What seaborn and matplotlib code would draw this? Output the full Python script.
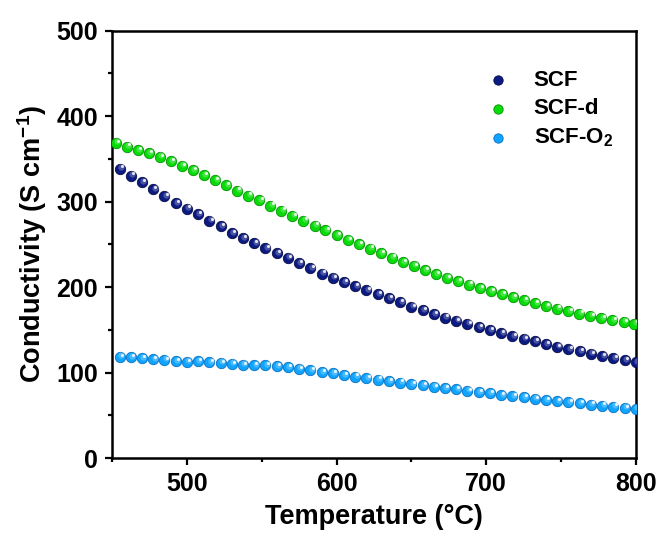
import matplotlib
matplotlib.use("Agg")
import matplotlib.pyplot as plt
import matplotlib.transforms as mtransforms
from matplotlib.ticker import MultipleLocator
import numpy as np
import pandas as pd
import seaborn as sns

# ---------------- data ----------------
temp_scf = [455, 462.5, 470, 477.5, 485, 492.5, 500, 507.5, 515, 522.5, 530, 537.5,
            545, 552.5, 560, 567.5, 575, 582.5, 590, 597.5, 605, 612.5, 620, 627.5,
            635, 642.5, 650, 657.5, 665, 672.5, 680, 687.5, 695, 702.5, 710, 717.5,
            725, 732.5, 740, 747.5, 755, 762.5, 770, 777.5, 785, 792.5, 800]
cond_scf = [338.8, 330.6, 322.5, 314.3, 306.1, 298.6, 292.0, 285.4, 277.6, 271.3,
            263.5, 257.3, 251.1, 245.3, 239.4, 234.3, 227.7, 221.9, 216.0, 210.9,
            205.5, 201.2, 196.5, 191.5, 186.8, 182.1, 177.0, 172.8, 168.7, 164.4,
            160.6, 157.1, 153.2, 149.7, 146.5, 142.9, 139.7, 136.5, 133.2, 130.2,
            127.5, 124.8, 122.0, 119.3, 117.0, 114.6, 112.6]

temp_scf_d = [452.5, 459.9, 467.3, 474.6, 482.0, 489.4, 496.8, 504.1, 511.5, 518.9,
              526.3, 533.6, 541.0, 548.4, 555.8, 563.1, 570.5, 577.9, 585.3, 592.6,
              600.0, 607.4, 614.8, 622.1, 629.5, 636.9, 644.3, 651.6, 659.0, 666.4,
              673.8, 681.1, 688.5, 695.9, 703.3, 710.6, 718.0, 725.4, 732.8, 740.1,
              747.5, 754.9, 762.3, 769.6, 777.0, 784.4, 791.8, 799.1]
cond_scf_d = [368.8, 364.5, 360.5, 356.5, 352.5, 347.5, 342.0, 336.5, 331.0, 325.0,
              319.0, 313.0, 307.0, 301.5, 295.5, 289.5, 283.5, 278.0, 272.0, 266.5,
              261.0, 255.5, 250.5, 245.0, 239.5, 234.5, 229.5, 225.0, 220.0, 215.5,
              211.0, 207.0, 203.0, 199.0, 195.5, 192.0, 188.5, 185.0, 181.5, 178.0,
              175.0, 172.0, 169.0, 166.5, 164.0, 161.5, 159.5, 157.5]

temp_scf_o2 = temp_scf
cond_scf_o2 = [118.5, 117.8, 117.0, 116.1, 115.0, 113.5, 112.8, 113.2, 112.6, 111.5,
               110.3, 109.2, 108.8, 108.4, 107.3, 106.2, 104.5, 102.9, 100.9, 99.1,
               97.1, 95.3, 93.7, 92.0, 90.1, 88.3, 86.5, 85.0, 83.4, 81.9,
               80.4, 78.7, 77.2, 75.7, 74.0, 72.5, 71.0, 69.5, 68.1, 66.7,
               65.4, 64.0, 62.7, 61.4, 60.2, 58.8, 57.7]

series_labels = ["SCF", "SCF-d", "SCF-O$_2$"]
series_colors = ["#0c1a84", "#08dc08", "#10a4ff"]
edge_colors = ["#050c45", "#049004", "#0770c0"]

temps = [temp_scf, temp_scf_d, temp_scf_o2]
conds = [cond_scf, cond_scf_d, cond_scf_o2]

# ---------------- style ----------------
sns.set_style("ticks")
plt.rcParams.update({
    "font.family": ["Liberation Sans", "DejaVu Sans"],
    "font.weight": "bold",
    "axes.labelweight": "bold",
    "mathtext.fontset": "custom",
    "mathtext.rm": "Liberation Sans:bold",
    "mathtext.it": "Liberation Sans:bold",
    "mathtext.bf": "Liberation Sans:bold",
    "mathtext.default": "rm",
    "axes.edgecolor": "black",
    "axes.labelcolor": "black",
    "xtick.color": "black",
    "ytick.color": "black",
    "xtick.labelcolor": "black",
    "ytick.labelcolor": "black",
    "text.color": "black",
})

fig = plt.figure(figsize=(6.63, 5.39), dpi=100)
ax = fig.add_axes([0.169, 0.150, 0.790, 0.793])

hl_off = mtransforms.ScaledTranslation(1.0 / 72, 1.0 / 72, fig.dpi_scale_trans)
hl_off2 = mtransforms.ScaledTranslation(1.6 / 72, 1.6 / 72, fig.dpi_scale_trans)

for t, c, lab, col, ecol in zip(temps, conds, series_labels, series_colors, edge_colors):
    df = pd.DataFrame({"T": t, "sigma": c})
    sns.scatterplot(data=df, x="T", y="sigma", color=col, s=56, edgecolor=ecol,
                    linewidth=0.6, label=lab, ax=ax, zorder=3)
    # glossy sphere look
    ax.scatter(df["T"], df["sigma"], s=20, color="white", alpha=0.25,
               linewidths=0, transform=ax.transData + hl_off, zorder=4)
    ax.scatter(df["T"], df["sigma"], s=5, color="white", alpha=0.85,
               linewidths=0, transform=ax.transData + hl_off2, zorder=5)

ax.set_xlim(450, 800)
ax.set_ylim(0, 500)
ax.xaxis.set_major_locator(MultipleLocator(100))
ax.xaxis.set_minor_locator(MultipleLocator(50))
ax.yaxis.set_major_locator(MultipleLocator(100))
ax.yaxis.set_minor_locator(MultipleLocator(50))

for sp in ax.spines.values():
    sp.set_visible(True)
    sp.set_linewidth(1.8)
    sp.set_color("black")

ax.tick_params(which="major", direction="out", length=5, width=1.6,
               labelsize=18, top=False, right=False, pad=5)
ax.tick_params(which="minor", direction="out", length=3, width=1.6,
               top=False, right=False)
for lbl in ax.get_xticklabels() + ax.get_yticklabels():
    lbl.set_fontweight("bold")

ax.set_xlabel("Temperature (°C)", fontsize=19.5, fontweight="bold", labelpad=6)
ax.set_ylabel("Conductivity (S cm$^{-1}$)", fontsize=19.5, fontweight="bold", labelpad=5)

leg = ax.legend(loc="upper left", bbox_to_anchor=(0.716, 0.908), frameon=False,
                fontsize=16, handlelength=1.0, handletextpad=1.1, labelspacing=0.33,
                borderaxespad=0, borderpad=0, markerscale=0.9)
for txt in leg.get_texts():
    txt.set_fontweight("bold")

fig.savefig("out.png", dpi=100)
